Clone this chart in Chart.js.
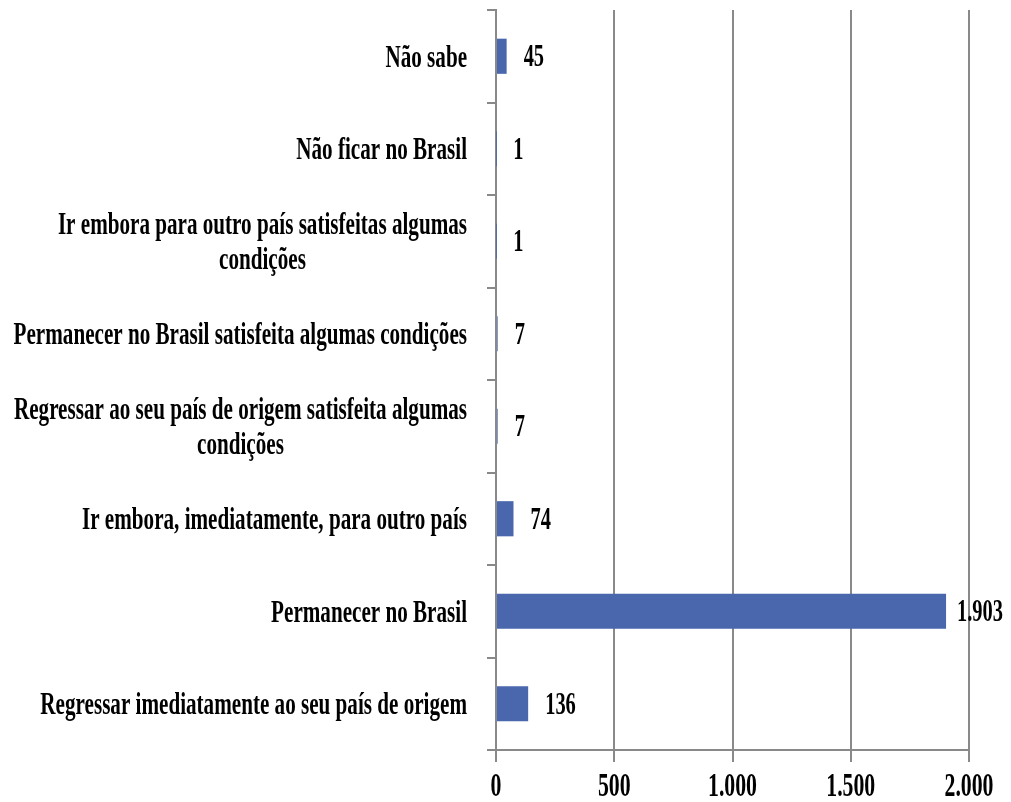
<!DOCTYPE html>
<html>
<head>
<meta charset="utf-8">
<script src="https://cdn.jsdelivr.net/npm/chart.js@4.4.1/dist/chart.umd.min.js"></script>
<style>
    html, body { margin: 0; padding: 0; background: #fff; }
    #wrap { width: 1011px; height: 802px; }
</style>
</head>
<body>
<div id="wrap"><canvas id="answersChart"></canvas></div>
<script>
// Categories top to bottom, each one split into its drawn lines
const categories = [
    ["Não sabe"],
    ["Não ficar no Brasil"],
    ["Ir embora para outro país satisfeitas algumas", "condições"],
    ["Permanecer no Brasil satisfeita algumas condições"],
    ["Regressar ao seu país de origem satisfeita algumas", "condições"],
    ["Ir embora, imediatamente, para outro país"],
    ["Permanecer no Brasil"],
    ["Regressar imediatamente ao seu país de origem"]
];
const counts = [45, 1, 1, 7, 7, 74, 1903, 136];
const xTicks = [0, 500, 1000, 1500, 2000];

const FONT = '"Liberation Serif", "Times New Roman", serif';
const SQUEEZE = 0.66;   // horizontal squeeze for the narrow lettering
const GRID = "#898989";

// pt-BR thousands separator
function fmt(n) {
    return String(n).replace(/\B(?=(\d{3})+(?!\d))/g, ".");
}

function textWidth(ctx, text) {
    return ctx.measureText(text).width * SQUEEZE;
}

function drawNarrow(ctx, text, x, y, align) {
    ctx.save();
    ctx.translate(x, y);
    ctx.scale(SQUEEZE, 1);
    ctx.textAlign = align;
    ctx.fillText(text, 0, 0);
    ctx.restore();
}

// Category names, value labels and x tick labels in narrow type
const narrowText = {
    id: "narrowText",
    afterDatasetsDraw(chart) {
        const ctx = chart.ctx;
        const xScale = chart.scales.x;
        const yScale = chart.scales.y;
        ctx.save();
        ctx.fillStyle = "#000";
        ctx.textBaseline = "middle";

        // category names
        ctx.font = "bold 32px " + FONT;
        const rightEdge = yScale.right - 29;
        categories.forEach((lines, i) => {
            const cy = yScale.getPixelForValue(i) + 2;
            const blockW = Math.max(...lines.map(l => textWidth(ctx, l)));
            const cx = rightEdge - blockW / 2;
            const lineH = 35;
            const top = cy - (lines.length - 1) * lineH / 2;
            lines.forEach((line, j) => {
                drawNarrow(ctx, line, cx, top + j * lineH, "center");
            });
        });

        // value labels beside the bars
        ctx.font = "bold 31px " + FONT;
        chart.getDatasetMeta(0).data.forEach((bar, i) => {
            const label = fmt(counts[i]);
            const w = textWidth(ctx, label);
            const x = Math.min(bar.x + 17, chart.width - 8 - w);
            drawNarrow(ctx, label, x, bar.y + 2, "left");
        });

        // x axis tick labels
        ctx.font = "bold 33px " + FONT;
        xTicks.forEach(v => {
            drawNarrow(ctx, fmt(v), xScale.getPixelForValue(v), xScale.top + 37, "center");
        });
        ctx.restore();
    }
};

new Chart(document.getElementById("answersChart"), {
    type: "bar",
    data: {
        labels: categories.map(l => l.join(" ")),
        datasets: [{
            data: counts,
            backgroundColor: "#4A66AC",
            borderWidth: 0,
            categoryPercentage: 1,
            barPercentage: 0.38
        }]
    },
    options: {
        indexAxis: "y",
        responsive: true,
        maintainAspectRatio: false,
        animation: false,
        layout: {
            padding: { top: 10, right: 42, bottom: 0, left: 0 }
        },
        plugins: {
            legend: { display: false },
            tooltip: { enabled: false }
        },
        scales: {
            x: {
                min: 0,
                max: 2000,
                afterBuildTicks: scale => {
                    scale.ticks = xTicks.map(v => ({ value: v }));
                },
                afterFit: scale => { scale.height = 52; },
                ticks: { display: false },
                grid: { color: GRID, lineWidth: 2, tickLength: 12 },
                border: { display: true, color: GRID, width: 2 }
            },
            y: {
                afterFit: scale => { scale.width = 496; },
                ticks: { display: false },
                grid: {
                    drawOnChartArea: false,
                    offset: true,
                    color: GRID,
                    lineWidth: 2,
                    tickLength: 9
                },
                border: { display: true, color: GRID, width: 2 }
            }
        }
    },
    plugins: [narrowText]
});
</script>
</body>
</html>
